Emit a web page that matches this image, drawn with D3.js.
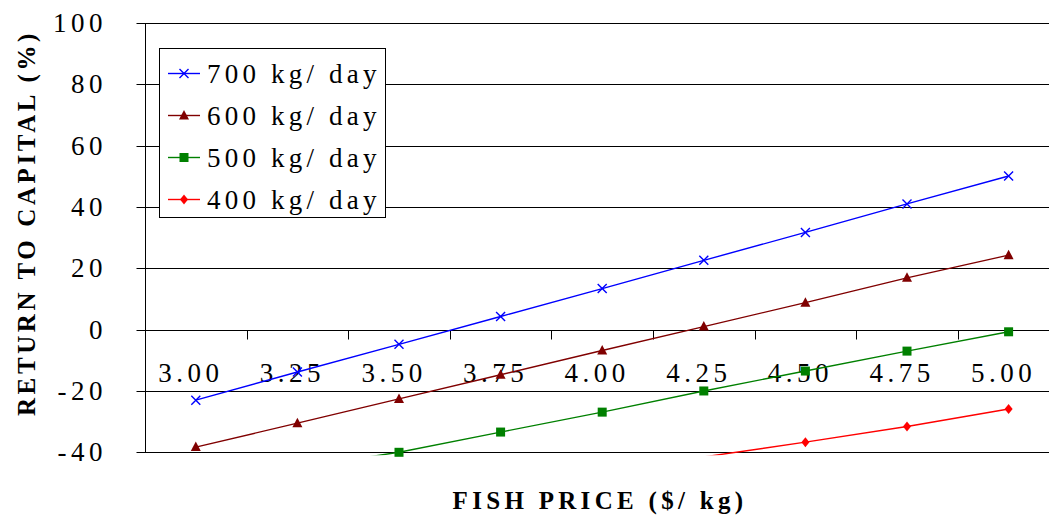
<!DOCTYPE html>
<html>
<head>
<meta charset="utf-8">
<script src="https://cdn.jsdelivr.net/npm/d3@7"></script>
<style>
html,body{margin:0;padding:0;background:#fff;}
svg{display:block;}
</style>
</head>
<body>
<svg id="chart" width="1049" height="520" font-family="'Liberation Serif', 'Times New Roman', Times, 'DejaVu Serif', serif"></svg>
<script>
// ---- data ----
const prices = ["3.00","3.25","3.50","3.75","4.00","4.25","4.50","4.75","5.00"];
const r700 = [-23.0, -13.8, -4.8, 4.3, 13.4, 22.6, 31.7, 41.0, 50.1];
const r600 = [-38.3, -30.5, -22.6, -14.7, -6.8, 1.0, 8.8, 16.9, 24.3];
const r500 = [-52.0, -45.0, -40.0, -33.4, -26.9, -20.0, -13.5, -7.0, -0.7];
const r400 = [-67.0, -62.0, -57.0, -52.0, -47.0, -41.5, -36.7, -31.6, -25.9];
const seriesNames = ["700 kg/ day","600 kg/ day","500 kg/ day","400 kg/ day"];
const yTicks = [100, 80, 60, 40, 20, 0, -20, -40];

(function(){
const FONT = "'Liberation Serif', 'Times New Roman', Times, 'DejaVu Serif', serif";
const series = [
  {name: seriesNames[0], values: r700, color: "#0000FF", marker: "x"},
  {name: seriesNames[1], values: r600, color: "#800000", marker: "tri"},
  {name: seriesNames[2], values: r500, color: "#008000", marker: "sq"},
  {name: seriesNames[3], values: r400, color: "#FF0000", marker: "dia"}
];

const svg = d3.select("#chart");
const pL = 145, pR = 145 + 9 * 101.6, pT = 23, pB = 452.3;

const x = d3.scaleBand().domain(prices).range([pL, pR]).padding(0);
const y = d3.scaleLinear().domain([-40, 100]).range([pB, pT]);
const cx = d => x(d) + x.bandwidth() / 2;

// gridlines
svg.append("g").selectAll("line").data(yTicks).join("line")
  .attr("x1", pL).attr("x2", 1049)
  .attr("y1", d => Math.round(y(d)) + 0.5).attr("y2", d => Math.round(y(d)) + 0.5)
  .attr("stroke", "#000").attr("stroke-width", 1);

// y axis
const yAxis = svg.append("g").attr("transform", `translate(${pL + 0.5},0)`)
  .call(d3.axisLeft(y).tickValues(yTicks).tickSize(9).tickPadding(0).tickFormat(d3.format("d")));
yAxis.select(".domain").attr("stroke", "#000").attr("d", `M0,${pT}V${pB}`);
yAxis.selectAll(".tick line").attr("stroke", "#000");
yAxis.selectAll(".tick").attr("transform", d => `translate(0,${Math.round(y(d)) + 0.5})`);
yAxis.selectAll(".tick text").remove();
svg.append("g").selectAll("text").data(yTicks).join("text")
  .attr("x", 107).attr("y", d => y(d) + 9)
  .attr("text-anchor", "end")
  .attr("font-family", FONT).attr("font-size", 27).style("letter-spacing", "4.5px")
  .text(d => d);

// x axis at zero
const y0 = Math.round(y(0)) + 0.5;
const xAxis = svg.append("g").attr("transform", `translate(0,${y0})`)
  .call(d3.axisBottom(x).tickSize(0).tickFormat(""));
xAxis.select(".domain").remove();
const boundaries = d3.range(1, 9).map(i => pL + i * x.bandwidth());
svg.append("g").selectAll("line").data(boundaries).join("line")
  .attr("x1", d => Math.round(d) + 0.5).attr("x2", d => Math.round(d) + 0.5)
  .attr("y1", y0).attr("y2", y0 + 9).attr("stroke", "#000");
svg.append("g").selectAll("text").data(prices).join("text")
  .attr("x", d => cx(d) - 5).attr("y", y0 + 51)
  .attr("text-anchor", "middle")
  .attr("font-family", FONT).attr("font-size", 27).style("letter-spacing", "4.5px")
  .text(d => d);

// clip
svg.append("defs").append("clipPath").attr("id", "plotclip")
  .append("rect").attr("x", pL).attr("y", pT - 5).attr("width", pR - pL).attr("height", pB + 3 - (pT - 5));

function drawMarker(g, type, color, px, py) {
  if (type === "x") {
    const s = 4.5;
    g.append("path").attr("d", `M${px-s},${py-s}L${px+s},${py+s}M${px-s},${py+s}L${px+s},${py-s}`)
      .attr("stroke", color).attr("stroke-width", 1.4).attr("fill", "none");
  } else if (type === "tri") {
    g.append("path").attr("d", `M${px},${py-5.5}L${px+5},${py+4}L${px-5},${py+4}Z`).attr("fill", color);
  } else if (type === "sq") {
    g.append("rect").attr("x", px - 4.5).attr("y", py - 4.5).attr("width", 9).attr("height", 9).attr("fill", color);
  } else {
    g.append("path").attr("d", `M${px},${py-5}L${px+4},${py}L${px},${py+5}L${px-4},${py}Z`).attr("fill", color);
  }
}

const line = d3.line().x((d, i) => cx(prices[i])).y(d => y(d));
series.forEach(s => {
  svg.append("path").datum(s.values)
    .attr("clip-path", "url(#plotclip)")
    .attr("d", line).attr("fill", "none")
    .attr("stroke", s.color).attr("stroke-width", 1.4);
  const g = svg.append("g");
  s.values.forEach((v, i) => {
    if (v >= -40.05) drawMarker(g, s.marker, s.color, cx(prices[i]), y(v));
  });
});

// legend
const lg = svg.append("g");
lg.append("rect").attr("x", 159.5).attr("y", 48.5).attr("width", 226).attr("height", 169)
  .attr("fill", "#fff").attr("stroke", "#000").attr("stroke-width", 1);
series.forEach((s, i) => {
  const ly = 73.5 + i * 42;
  lg.append("line").attr("x1", 168).attr("x2", 200).attr("y1", ly).attr("y2", ly)
    .attr("stroke", s.color).attr("stroke-width", 1.4);
  drawMarker(lg, s.marker, s.color, 184, ly);
  lg.append("text").attr("x", 207).attr("y", ly + 9)
    .attr("font-family", FONT).attr("font-size", 27).style("letter-spacing", "4.2px")
    .text(s.name);
});

// axis titles
svg.append("text").attr("x", 600).attr("y", 509)
  .attr("text-anchor", "middle")
  .attr("font-family", FONT).attr("font-size", 25).attr("font-weight", "bold").style("letter-spacing", "4.3px")
  .text("FISH PRICE ($/ kg)");
svg.append("text").attr("transform", "translate(35,223) rotate(-90)")
  .attr("text-anchor", "middle")
  .attr("font-family", FONT).attr("font-size", 25).attr("font-weight", "bold").style("letter-spacing", "3.6px")
  .text("RETURN TO CAPITAL (%)");
})();
</script>
</body>
</html>
